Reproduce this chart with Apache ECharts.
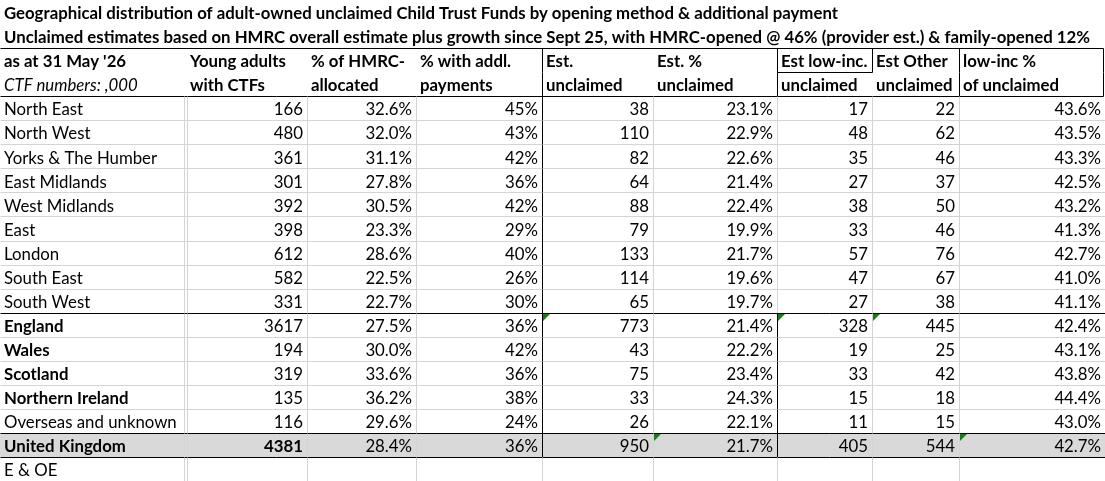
<html>

<head>
    <title>Unclaimed Child Trust Funds by region</title>
    <style>
        * {
            margin: 0;
            padding: 0;
        }
        body {
            background: #ffffff;
        }
        #chart-container {
            position: relative;
            width: 1105px;
            height: 481px;
            overflow: hidden;
        }
    </style>
</head>

<body>
<div id="chart-container"></div>
    <script src="https://cdn.jsdelivr.net/npm/echarts@6/dist/echarts.min.js"></script>
    <script>
        // --- data ---
        const titleLines = [
            'Geographical distribution of adult-owned unclaimed Child Trust Funds by opening method & additional payment',
            'Unclaimed estimates based on HMRC overall estimate plus growth since Sept 25, with HMRC-opened @ 46% (provider est.) & family-opened 12%'
        ];
        const headerTop = ["as at 31 May '26", 'Young adults', '% of HMRC-', '% with addl.', 'Est.', 'Est. %', 'Est low-inc.', 'Est Other', 'low-inc %'];
        const headerBottom = ['CTF numbers: ,000', 'with CTFs', 'allocated', 'payments', 'unclaimed', 'unclaimed', 'unclaimed', 'unclaimed', 'of unclaimed'];

        const regions = ['North East', 'North West', 'Yorks & The Humber', 'East Midlands', 'West Midlands', 'East', 'London',
            'South East', 'South West', 'England', 'Wales', 'Scotland', 'Northern Ireland', 'Overseas and unknown', 'United Kingdom'];
        const youngAdults = [166, 480, 361, 301, 392, 398, 612, 582, 331, 3617, 194, 319, 135, 116, 4381];
        const hmrcAllocatedPct = [32.6, 32.0, 31.1, 27.8, 30.5, 23.3, 28.6, 22.5, 22.7, 27.5, 30.0, 33.6, 36.2, 29.6, 28.4];
        const addlPaymentPct = [45, 43, 42, 36, 42, 29, 40, 26, 30, 36, 42, 36, 38, 24, 36];
        const estUnclaimed = [38, 110, 82, 64, 88, 79, 133, 114, 65, 773, 43, 75, 33, 26, 950];
        const estUnclaimedPct = [23.1, 22.9, 22.6, 21.4, 22.4, 19.9, 21.7, 19.6, 19.7, 21.4, 22.2, 23.4, 24.3, 22.1, 21.7];
        const lowIncUnclaimed = [17, 48, 35, 27, 38, 33, 57, 47, 27, 328, 19, 33, 15, 11, 405];
        const otherUnclaimed = [22, 62, 46, 37, 50, 46, 76, 67, 38, 445, 25, 42, 18, 15, 544];
        const lowIncPctOfUnclaimed = [43.6, 43.5, 43.3, 42.5, 43.2, 41.3, 42.7, 41.0, 41.1, 42.4, 43.1, 43.8, 44.4, 43.0, 42.7];
        const footnote = 'E & OE';

        const boldLabels = ['England', 'Wales', 'Scotland', 'Northern Ireland', 'United Kingdom'];
        const totalLabel = 'United Kingdom';
        // excel's little green corner flags: [region, column]
        const flaggedCells = [['England', 4], ['England', 6], ['England', 7], ['United Kingdom', 5], ['United Kingdom', 8]];

        // --- layout ---
        const COL_EDGES = [0, 186, 307, 416, 542, 653, 777, 872, 959, 1105];
        const FONT = 'Lato, "Open Sans", sans-serif';
        const FS = 16.8;
        const GRID_GREY = '#d4d4d4';
        const INK = '#000000';

        const pct1 = v => v.toFixed(1) + '%';
        const pct0 = v => v + '%';

        // build sheet rows
        const rows = [];
        titleLines.forEach(t => rows.push({ kind: 'title', cells: [{ text: t, bold: true }] }));
        rows.push({ kind: 'head1', cells: headerTop.map(t => ({ text: t, bold: true })) });
        rows.push({ kind: 'head2', cells: headerBottom.map((t, i) => ({ text: t, bold: i > 0, italic: i === 0 })) });
        regions.forEach((name, i) => {
            const isTotal = name === totalLabel;
            const vals = [
                String(youngAdults[i]), pct1(hmrcAllocatedPct[i]), pct0(addlPaymentPct[i]),
                String(estUnclaimed[i]), pct1(estUnclaimedPct[i]), String(lowIncUnclaimed[i]),
                String(otherUnclaimed[i]), pct1(lowIncPctOfUnclaimed[i])
            ];
            rows.push({
                kind: 'data',
                region: name,
                fill: isTotal ? '#d9d9d9' : null,
                cells: [{ text: name, bold: boldLabels.indexOf(name) >= 0 }]
                    .concat(vals.map((v, k) => ({ text: v, right: true, bold: isTotal && k === 0 })))
            });
        });
        rows.push({ kind: 'foot', cells: [{ text: footnote }] });

        const rowIdx = name => rows.findIndex(r => r.region === name);
        const firstHomeNation = rowIdx('England');
        const lastRegion = rowIdx('South West');
        const overseasRow = rowIdx('Overseas and unknown');
        const totalRow = rowIdx(totalLabel);

        function rowBox(api, r) {
            const h = api.size([0, 1])[1];
            const yc = api.coord([0, r])[1];
            return { top: yc - h / 2, bottom: yc + h / 2, yc: yc, h: h };
        }
        const crisp = v => Math.round(v) + 0.5;

        function renderCells(params, api) {
            const r = api.value(1);
            const row = rows[r];
            const b = rowBox(api, r);
            const x = i => api.coord([COL_EDGES[i], r])[0];
            const children = [];
            if (row.fill) {
                children.push({ type: 'rect', shape: { x: x(0), y: b.top, width: x(9) - x(0), height: b.h }, style: { fill: row.fill } });
            }
            row.cells.forEach((c, i) => {
                const font = (c.italic ? 'italic ' : '') + (c.bold ? 'bold ' : '') + FS + 'px ' + FONT;
                children.push({
                    type: 'text',
                    x: c.right ? x(i + 1) - 4 : x(i) + 4,
                    y: b.yc + 1.8,
                    style: { text: c.text, font: font, fill: INK, align: c.right ? 'right' : 'left', verticalAlign: 'middle' }
                });
            });
            return { type: 'group', children: children };
        }

        function line(x1, y1, x2, y2, color) {
            return { type: 'line', shape: { x1: x1, y1: y1, x2: x2, y2: y2 }, style: { stroke: color, lineWidth: 1 } };
        }

        function renderLines(params, api) {
            const r = api.value(1);
            const row = rows[r];
            const b = rowBox(api, r);
            const x = i => crisp(api.coord([COL_EDGES[i], r])[0]);
            const T = crisp(b.top), B = crisp(b.bottom);
            const L = x(0), R = crisp(api.coord([COL_EDGES[9], r])[0] - 2);
            const out = [];
            if (row.kind === 'head1') {
                out.push(line(L, T, R, T, INK));
                [4, 6, 7, 8].forEach(i => out.push(line(x(i), T, x(i), B, INK)));
                out.push(line(R, T, R, B, INK));
                out.push(line(x(6), B, x(7), B, INK));
            } else if (row.kind === 'head2') {
                [4, 6, 8].forEach(i => out.push(line(x(i), T, x(i), B, INK)));
                out.push(line(R, T, R, B, INK));
                out.push(line(L, B, R, B, INK));
            } else if (row.kind === 'data' || row.kind === 'foot') {
                const isData = row.kind === 'data';
                out.push(line(x(1) - 2, T, x(1) - 2, B, GRID_GREY));
                out.push(line(x(1) + 1, T, x(1) + 1, B, GRID_GREY));
                [2, 3, 5, 7, 8].forEach(i => out.push(line(x(i), T, x(i), B, GRID_GREY)));
                out.push(line(x(4), T, x(4), B, isData ? INK : GRID_GREY));
                out.push(line(x(6), T, x(6), B, isData && r >= firstHomeNation ? INK : GRID_GREY));
                const heavy = r === lastRegion || r === overseasRow || r === totalRow;
                if (!heavy) out.push(line(L, B, R + 2, B, GRID_GREY));
            }
            // heavy rules drawn last so they sit on top
            if (r === lastRegion || r === overseasRow || r === totalRow) {
                out.push(line(L, B, R + 2, B, INK));
            }
            if (row.kind === 'data') {
                flaggedCells.forEach(f => {
                    if (f[0] !== row.region) return;
                    const x0 = x(f[1]) + 0.5, y0 = T + 0.5;
                    out.push({ type: 'polygon', shape: { points: [[x0, y0], [x0 + 7, y0], [x0, y0 + 7]] }, style: { fill: '#1b7a1b' } });
                });
            }
            return { type: 'group', children: out };
        }

        var dom = document.getElementById('chart-container');
        var myChart = echarts.init(dom, null, { renderer: 'canvas' });

        const rowData = rows.map((r, i) => [0, i]);

        var option = {
            animation: false,
            backgroundColor: '#ffffff',
            grid: { left: 0, right: 0, top: 0, bottom: 0 },
            xAxis: { type: 'value', min: 0, max: COL_EDGES[COL_EDGES.length - 1], show: false },
            yAxis: { type: 'category', inverse: true, data: rows.map((r, i) => String(i)), show: false },
            series: [
                { type: 'custom', renderItem: renderCells, data: rowData, z: 2, silent: true, clip: false },
                { type: 'custom', renderItem: renderLines, data: rowData, z: 3, silent: true, clip: false }
            ]
        };

        myChart.setOption(option);
        window.addEventListener('resize', myChart.resize);
    </script>
</body>

</html>
